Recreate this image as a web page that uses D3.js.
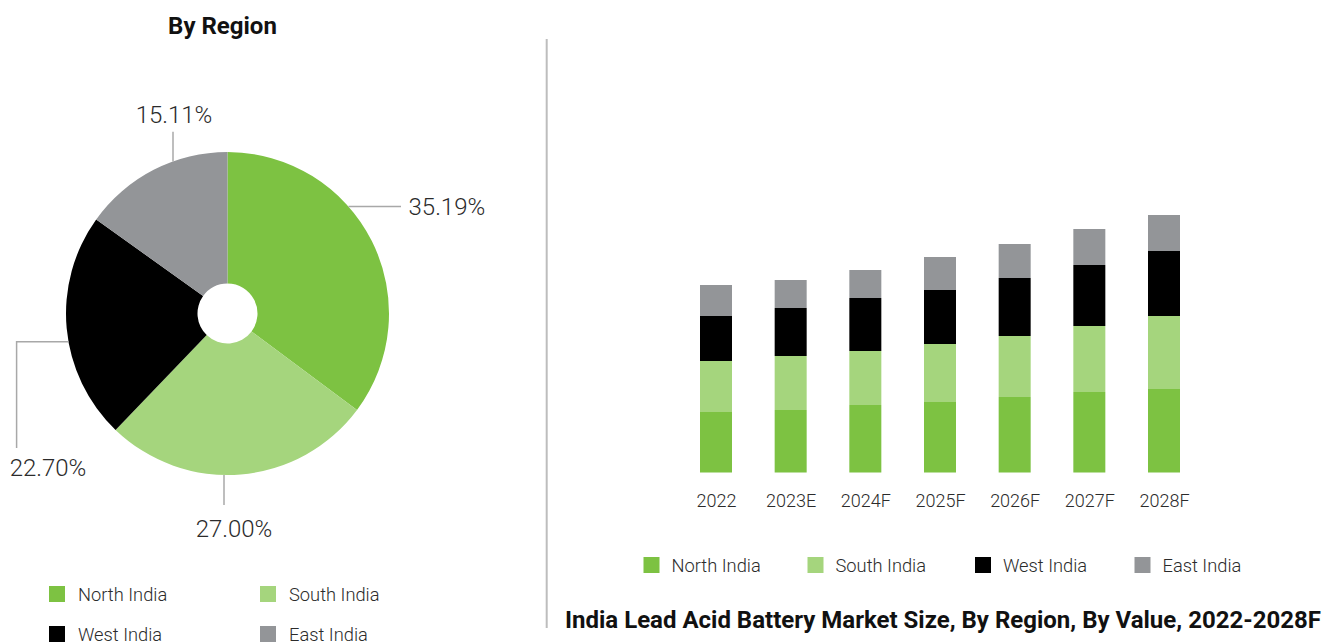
<!DOCTYPE html>
<html>
<head>
<meta charset="utf-8">
<script src="https://cdn.jsdelivr.net/npm/d3@7"></script>
<style>
  html, body { margin: 0; padding: 0; background: #fff; }
  svg { display: block; font-family: Roboto, "Noto Sans", sans-serif; }
</style>
</head>
<body>
<svg id="chart" width="1322" height="644"></svg>
<script>
// ---- data ----
const regions = ["North India", "South India", "West India", "East India"];
const regionColors = ["#7dc242", "#a5d57d", "#000000", "#939598"];
const pieShares = [35.19, 27.00, 22.70, 15.11];
const pieLabels = ["35.19%", "27.00%", "22.70%", "15.11%"];

const years = ["2022", "2023E", "2024F", "2025F", "2026F", "2027F", "2028F"];
const northIndia = [60.5, 62.5, 67.5, 70.5, 75.5, 80.5, 83.5];
const southIndia = [51, 54, 54, 58, 61, 66, 73];
const westIndia  = [45, 48, 53, 54, 58, 61, 65];
const eastIndia  = [31, 28, 28, 33, 34, 36, 36];

const pieTitle = "By Region";
const barTitle = "India Lead Acid Battery Market Size, By Region, By Value, 2022-2028F";

// ---- setup ----
const svg = d3.select("#chart");
const color = d3.scaleOrdinal().domain(regions).range(regionColors);
const textColor = "#2b2b2b";
const leaderColor = "#a8a8a8";

// ---- pie ----
const cx = 227.5, cy = 313.5, R = 161.5, r0 = 30;
svg.append("text")
  .attr("x", 222.5).attr("y", 33.5)
  .attr("text-anchor", "middle")
  .attr("font-size", 24).attr("font-weight", 700)
  .attr("fill", "#111")
  .text(pieTitle);

const pieData = regions.map((k, i) => ({ key: k, value: pieShares[i], label: pieLabels[i] }));
const pie = d3.pie().value(d => d.value).sort(null);
const arc = d3.arc().innerRadius(r0).outerRadius(R);
const pg = svg.append("g").attr("transform", `translate(${cx},${cy})`);
pg.selectAll("path").data(pie(pieData)).join("path")
  .attr("d", arc)
  .attr("fill", d => color(d.data.key));

// leader lines (edge points computed on the circle)
const edgeX = (y, side) => cx + side * Math.sqrt(R * R - (y - cy) * (y - cy));
const edgeY = (x, side) => cy + side * Math.sqrt(R * R - (x - cx) * (x - cx));
const lg = svg.append("g").attr("fill", "none").attr("stroke", leaderColor).attr("stroke-width", 1.5);
// North
lg.append("path").attr("d", `M${edgeX(206.5, 1)},206.5H401`);
// South
lg.append("path").attr("d", `M224,${edgeY(224, 1)}V505`);
// West
lg.append("path").attr("d", `M${edgeX(341.7, -1)},341.7H16.6V448`);
// East
lg.append("path").attr("d", `M173,${edgeY(173, -1)}V131.7`);

const labelPos = [
  { x: 408.5, y: 215, anchor: "start" },
  { x: 234, y: 536.5, anchor: "middle" },
  { x: 48, y: 475.5, anchor: "middle" },
  { x: 174, y: 123, anchor: "middle" }
];
svg.append("g").selectAll("text").data(pieData).join("text")
  .attr("x", (d, i) => labelPos[i].x)
  .attr("y", (d, i) => labelPos[i].y)
  .attr("text-anchor", (d, i) => labelPos[i].anchor)
  .attr("font-size", 24).attr("font-weight", 300)
  .attr("fill", textColor)
  .text(d => d.label);

// pie legend
const pl = svg.append("g");
const plItems = pl.selectAll("g").data(regions).join("g")
  .attr("transform", (d, i) => `translate(${49 + (i % 2) * 211},${586 + Math.floor(i / 2) * 40})`);
plItems.append("rect").attr("width", 16).attr("height", 16).attr("fill", d => color(d));
plItems.append("text").attr("x", 29).attr("y", 15)
  .attr("font-size", 18.3).attr("font-weight", 300).attr("fill", textColor)
  .text(d => d);

// divider
svg.append("line").attr("x1", 546.7).attr("x2", 546.7).attr("y1", 39).attr("y2", 628)
  .attr("stroke", "#bdbdbd").attr("stroke-width", 2);

// ---- stacked bars ----
const rows = years.map((y, i) => ({
  year: y,
  "North India": northIndia[i],
  "South India": southIndia[i],
  "West India": westIndia[i],
  "East India": eastIndia[i]
}));
const stack = d3.stack().keys(regions)(rows);
const x = d3.scalePoint().domain(years).range([716, 1164]);
const barW = 32;
const y = d3.scaleLinear().domain([0, 260]).range([472.5, 212.5]);

svg.append("g").selectAll("g").data(stack).join("g")
  .attr("fill", d => color(d.key))
  .selectAll("rect").data(d => d).join("rect")
  .attr("x", d => x(d.data.year) - barW / 2)
  .attr("width", barW)
  .attr("y", d => y(d[1]))
  .attr("height", d => y(d[0]) - y(d[1]));

const xAxis = svg.append("g").attr("transform", "translate(0,490)")
  .call(d3.axisBottom(x).tickSize(0).tickPadding(0));
xAxis.select(".domain").remove();
xAxis.selectAll("text")
  .attr("font-size", 18).attr("font-weight", 300).attr("fill", textColor)
  .attr("font-family", "Roboto, 'Noto Sans', sans-serif")
  .attr("dy", "0.95em");

// bar legend
const blX = [643.5, 807.5, 975, 1134.5];
const bl = svg.append("g").selectAll("g").data(regions).join("g")
  .attr("transform", (d, i) => `translate(${blX[i]},557)`);
bl.append("rect").attr("width", 16).attr("height", 16).attr("fill", d => color(d));
bl.append("text").attr("x", 28).attr("y", 15)
  .attr("font-size", 18.3).attr("font-weight", 300).attr("fill", textColor)
  .text(d => d);

svg.append("text").attr("x", 565).attr("y", 628)
  .attr("font-size", 24).attr("font-weight", 700).attr("fill", "#111")
  .text(barTitle);
</script>
</body>
</html>
